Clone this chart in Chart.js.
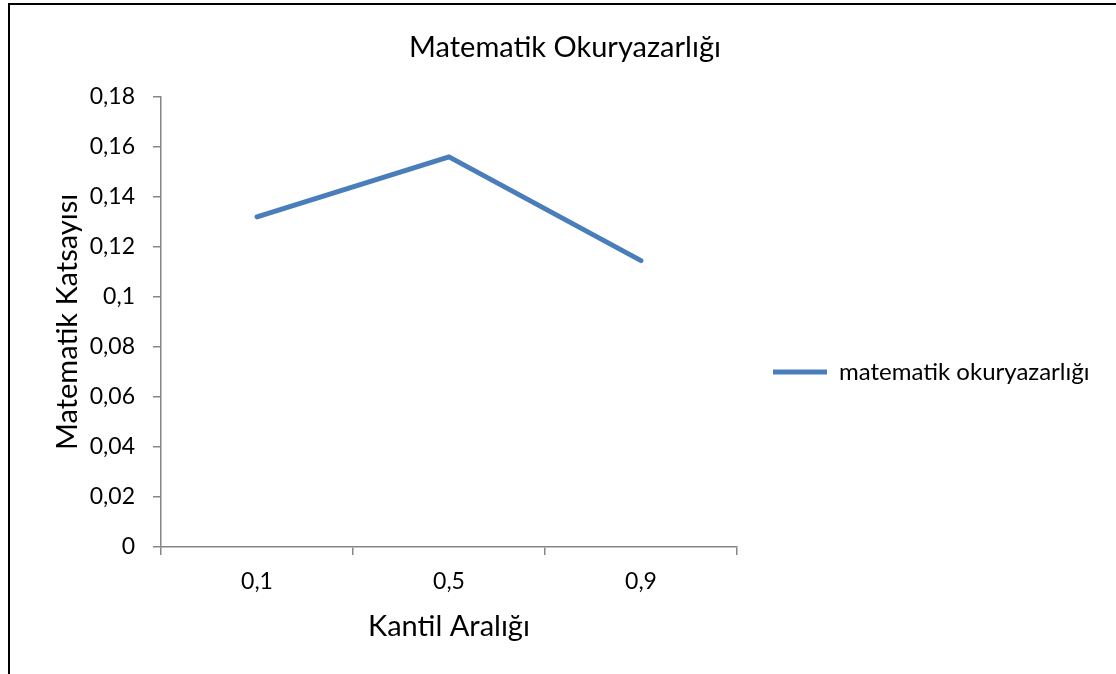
<!DOCTYPE html>
<html>
<head>
<meta charset="utf-8">
<script src="https://cdn.jsdelivr.net/npm/chart.js@4.4.0/dist/chart.umd.min.js"></script>
<style>
  html, body { margin: 0; padding: 0; background: #fff; }
  #wrap { position: relative; width: 1116px; height: 674px; overflow: hidden; }
  #frame { position: absolute; left: 8px; top: 3px; width: 1200px; height: 800px;
           border-left: 2px solid #000; border-top: 2px solid #000; }
  canvas { position: absolute; left: 0; top: 0; }
</style>
</head>
<body>
<div id="wrap">
  <div id="frame"></div>
  <canvas id="chart" width="1116" height="674"></canvas>
</div>
<script>
// ---- DATA ----
const categories = ["0,1", "0,5", "0,9"];
const seriesValues = [0.132, 0.156, 0.1145];
const yTickLabels = ["0", "0,02", "0,04", "0,06", "0,08", "0,1", "0,12", "0,14", "0,16", "0,18"];

const seriesName = "matematik okuryazarlığı";
const chartTitle = "Matematik Okuryazarlığı";
const xTitle = "Kantil Aralığı";
const yTitle = "Matematik Katsayısı";

// ---- STYLE ----
const FONT = "Lato";
const axisGray = "#868686";
const lineBlue = "#4A7EBB";
const LEGEND_W = 379;

// legend box is capped at a quarter of the width by the layout, so widen it here
const legendWidth = {
  id: "legendWidth",
  beforeLayout(chart) {
    const lg = chart.legend;
    if (lg && !lg._wide) {
      const fit = lg.fit;
      lg.fit = function () { fit.call(this); this.width = LEGEND_W; };
      lg._wide = true;
    }
  }
};

new Chart(document.getElementById("chart"), {
  type: "line",
  plugins: [legendWidth],
  data: {
    labels: categories,
    datasets: [{
      label: seriesName,
      data: seriesValues,
      borderColor: lineBlue,
      backgroundColor: lineBlue,
      borderWidth: 5,
      borderCapStyle: "round",
      borderJoinStyle: "round",
      pointRadius: 0,
      tension: 0
    }]
  },
  options: {
    responsive: false,
    animation: false,
    layout: { padding: { left: 14, right: 0, top: 0, bottom: 0 } },
    plugins: {
      title: {
        display: true,
        text: chartTitle,
        color: "#000",
        font: { family: FONT, size: 29, weight: "normal" },
        padding: { top: 30, bottom: 32 }
      },
      legend: {
        position: "right",
        // empty title only pushes the item down a bit
        title: { display: true, text: "", font: { size: 10 }, padding: { top: 58, bottom: 0 } },
        labels: {
          color: "#000",
          font: { family: FONT, size: 24 },
          boxWidth: 54,
          boxHeight: 5,
          padding: 36,
          useBorderRadius: true,
          borderRadius: 2.5,
          generateLabels: chart => chart.data.datasets.map((ds, i) => ({
            text: ds.label,
            fillStyle: ds.borderColor,
            strokeStyle: ds.borderColor,
            lineWidth: 0,
            fontColor: "#000",
            datasetIndex: i
          }))
        }
      },
      tooltip: { enabled: false }
    },
    scales: {
      x: {
        offset: true,
        afterFit: s => { s.height = 127; },
        grid: { offset: true, drawOnChartArea: false, drawTicks: true, tickLength: 8, color: axisGray, lineWidth: 1.5 },
        border: { color: axisGray, width: 1.5 },
        ticks: { color: "#000", font: { family: FONT, size: 23 }, padding: 13 },
        title: {
          display: true, text: xTitle, color: "#000",
          font: { family: FONT, size: 29 },
          padding: { top: 0, bottom: 30 }
        }
      },
      y: {
        min: 0,
        max: 0.18,
        afterFit: s => { s.width = 147; },
        afterBuildTicks: s => {
          s.ticks = yTickLabels.map((_, i) => ({ value: i * 0.02 }));
        },
        grid: { drawOnChartArea: false, drawTicks: true, tickLength: 8, color: axisGray, lineWidth: 1.5 },
        border: { color: axisGray, width: 1.5 },
        ticks: {
          color: "#000",
          font: { family: FONT, size: 23 },
          padding: 18,
          callback: (v, i) => yTickLabels[i]
        },
        title: {
          display: true, text: yTitle, color: "#000",
          font: { family: FONT, size: 29 },
          padding: { top: 36, bottom: 0 }
        }
      }
    }
  }
});
</script>
</body>
</html>
